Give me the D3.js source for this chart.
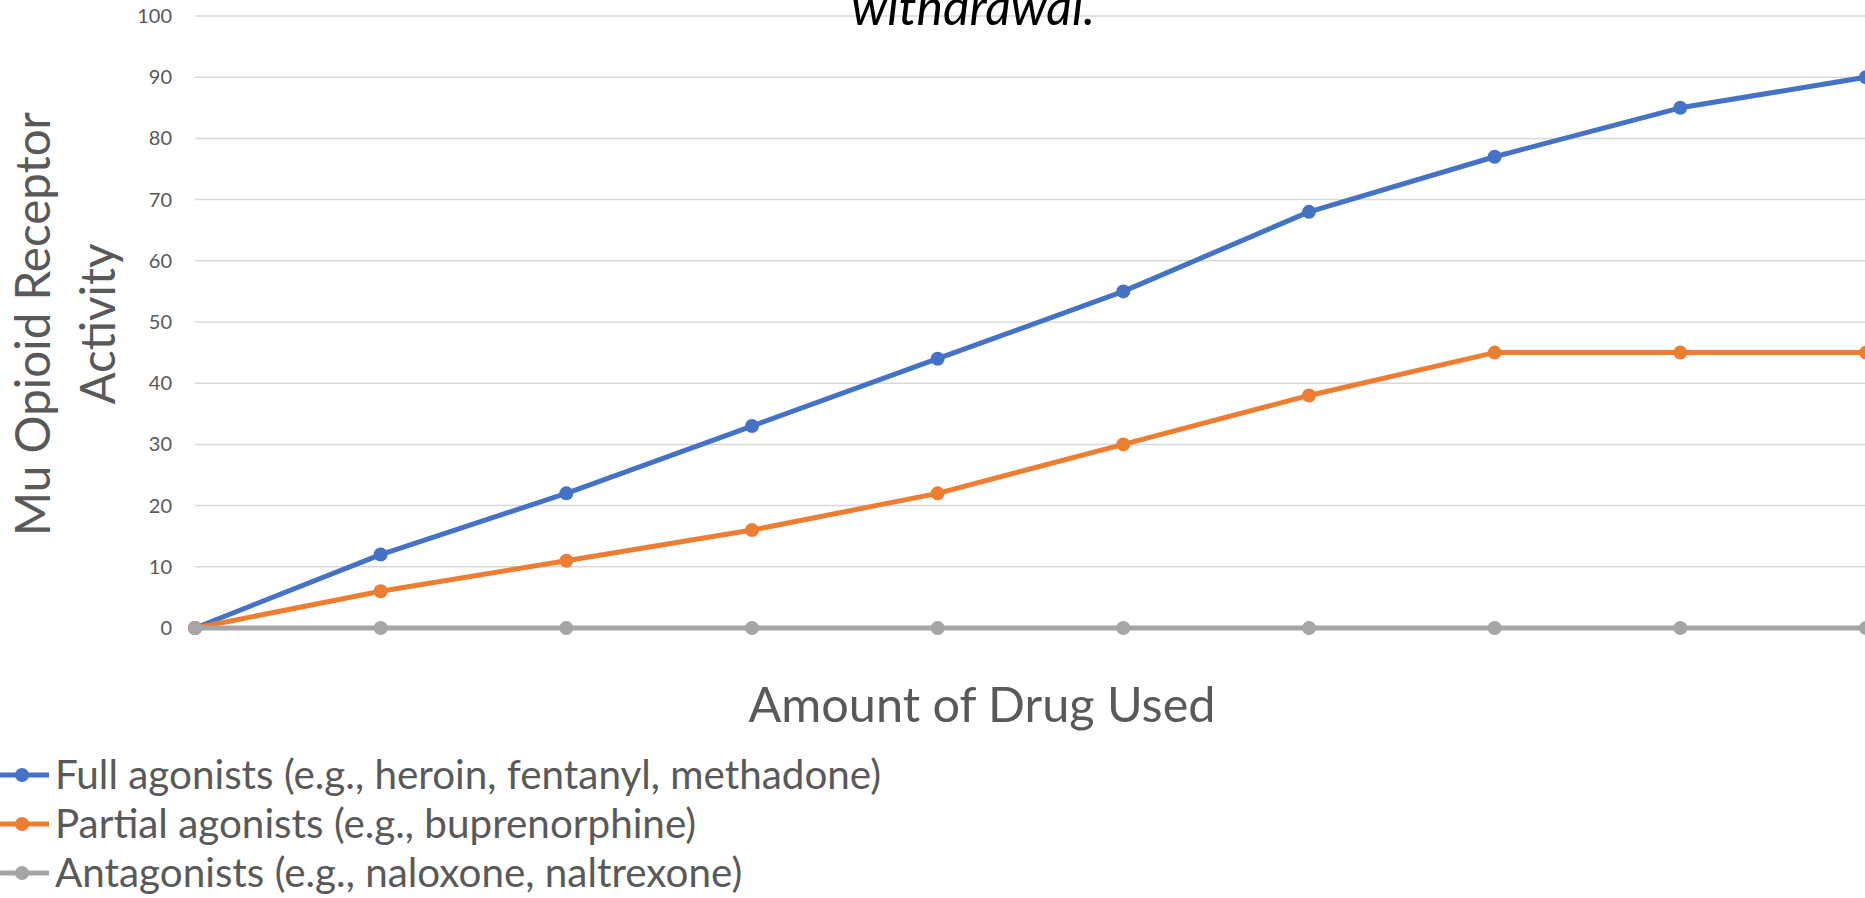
<!DOCTYPE html>
<html>
<head>
<meta charset="utf-8">
<script src="https://cdn.jsdelivr.net/npm/d3@7"></script>
<style>
  body { margin: 0; background: #fff; }
  svg { display: block; }
</style>
</head>
<body>
<svg class="vis0" width="1865" height="898"></svg>
<script>
// Mu opioid receptor activity line chart

var doses = [1, 2, 3, 4, 5, 6, 7, 8, 9, 10];
var fullAgonists = [0, 12, 22, 33, 44, 55, 68, 77, 85, 90];
var partialAgonists = [0, 6, 11, 16, 22, 30, 38, 45, 45, 45];
var antagonists = [0, 0, 0, 0, 0, 0, 0, 0, 0, 0];
var seriesNames = [
    "Full agonists (e.g., heroin, fentanyl, methadone)",
    "Partial agonists (e.g., buprenorphine)",
    "Antagonists (e.g., naloxone, naltrexone)"
];
var yTicks = [0, 10, 20, 30, 40, 50, 60, 70, 80, 90, 100];

var colors = ["#4472C4", "#ED7D31", "#A5A5A5"];
var textColor = "#595959";
var fontFam = "Lato, 'Open Sans', sans-serif";

var svg0 = d3.select(".vis0");

var plotLeft = 195, plotRight = 1866, plotTop = 16, plotBottom = 628;

var x = d3.scalePoint()
    .domain(doses)
    .range([plotLeft, plotRight]);

var y = d3.scaleLinear()
    .domain([0, 100])
    .range([plotBottom, plotTop]);

// gridlines
svg0.append("g")
    .selectAll("line")
    .data(yTicks)
    .join("line")
    .attr("x1", plotLeft)
    .attr("x2", 1865)
    .attr("y1", function (d) { return y(d); })
    .attr("y2", function (d) { return y(d); })
    .attr("stroke", "#D9D9D9")
    .attr("stroke-width", 1.5);

// y axis labels
var yAxis = svg0.append("g")
    .attr("transform", `translate(${plotLeft}, 0)`)
    .call(d3.axisLeft(y).tickValues(yTicks).tickSize(0).tickPadding(23));
yAxis.select(".domain").remove();
yAxis.selectAll("text")
    .attr("font-family", fontFam)
    .attr("font-size", "20px")
    .attr("fill", textColor);

// series
var allSeries = [fullAgonists, partialAgonists, antagonists];

var line = d3.line()
    .x(function (d, i) { return x(doses[i]); })
    .y(function (d) { return y(d); });

allSeries.forEach(function (vals, k) {
    var g = svg0.append("g");
    g.append("path")
        .attr("d", line(vals))
        .attr("fill", "none")
        .attr("stroke", colors[k])
        .attr("stroke-width", 5)
        .attr("stroke-linejoin", "round");
    g.selectAll("circle")
        .data(vals)
        .join("circle")
        .attr("cx", function (d, i) { return x(doses[i]); })
        .attr("cy", function (d) { return y(d); })
        .attr("r", 7)
        .attr("fill", colors[k]);
});

// title (cut off at the top, as in the original)
svg0.append("text")
    .attr("x", 973)
    .attr("y", 25)
    .attr("text-anchor", "middle")
    .attr("font-family", fontFam)
    .attr("font-style", "italic")
    .attr("font-size", "50px")
    .attr("fill", "#000")
    .text("withdrawal.");

// axis titles
svg0.append("text")
    .attr("x", 982)
    .attr("y", 722)
    .attr("text-anchor", "middle")
    .attr("font-family", fontFam)
    .attr("font-size", "48.6px")
    .attr("fill", textColor)
    .text("Amount of Drug Used");

var yTitle = svg0.append("text")
    .attr("transform", "translate(50, 324) rotate(-90)")
    .attr("text-anchor", "middle")
    .attr("font-family", fontFam)
    .attr("font-size", "47.6px")
    .attr("fill", textColor);
yTitle.append("tspan").attr("x", 0).attr("y", 0).text("Mu Opioid Receptor");
yTitle.append("tspan").attr("x", 0).attr("y", 65).text("Activity");

// legend
var legend = svg0.append("g")
    .selectAll("g")
    .data(seriesNames)
    .join("g")
    .attr("transform", function (d, i) { return `translate(0, ${775 + i * 49})`; });

legend.append("line")
    .attr("x1", 0)
    .attr("x2", 49)
    .attr("stroke", function (d, i) { return colors[i]; })
    .attr("stroke-width", 5);
legend.append("circle")
    .attr("cx", 22)
    .attr("r", 7)
    .attr("fill", function (d, i) { return colors[i]; });
legend.append("text")
    .attr("x", 55)
    .attr("dy", "0.35em")
    .attr("font-family", fontFam)
    .attr("font-size", "40.4px")
    .attr("fill", textColor)
    .text(function (d) { return d; });
</script>
</body>
</html>
